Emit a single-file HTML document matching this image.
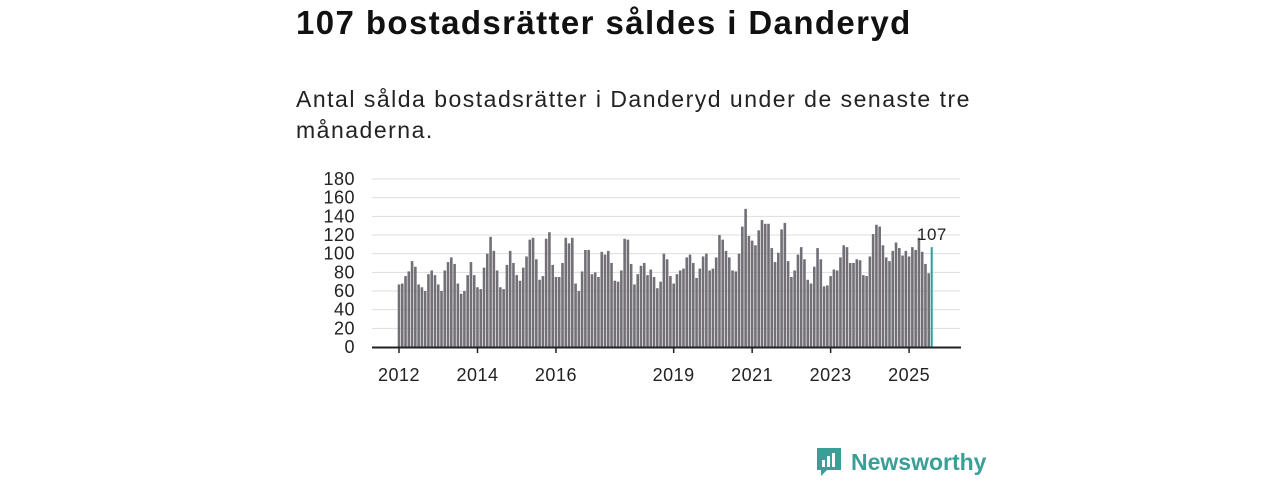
<!DOCTYPE html>
<html><head><meta charset="utf-8"><style>
body{margin:0;width:1280px;height:480px;background:#fff;font-family:"Liberation Sans",sans-serif;overflow:hidden;position:relative}
h1{position:absolute;left:296px;top:4px;margin:0;font-size:33px;font-weight:bold;color:#111;letter-spacing:1.4px}
p{position:absolute;left:296px;top:84px;margin:0;font-size:23px;line-height:31px;color:#222;width:720px;letter-spacing:1.5px}
svg{position:absolute;left:0;top:0}
</style></head><body>
<h1>107 bostadsrätter såldes i Danderyd</h1>
<p>Antal sålda bostadsrätter i Danderyd under de senaste tre månaderna.</p>
<svg id="c" width="1280" height="480"></svg>
<script>
const values=[67,68,76,81,92,86,67,64,60,78,82,77,67,60,82,91,96,89,68,57,60,77,91,77,64,62,85,100,118,103,82,64,62,88,103,90,77,71,85,97,115,117,
94,72,76,116,123,88,75,75,90,117,111,117,68,60,81,104,104,78,80,75,102,99,103,90,71,70,82,116,115,89,67,78,87,90,77,83,75,63,70,100,94,76,68,
78,82,84,96,99,90,74,84,97,100,82,84,96,120,115,103,96,82,81,100,129,148,119,114,109,125,136,132,132,106,91,101,126,133,92,75,82,99,107,
94,72,68,86,106,94,65,66,76,83,82,96,109,107,90,90,94,93,77,76,97,121,131,129,109,96,92,103,112,106,98,103,97,107,104,117,102,89,79,107];
const yTicks=[0,20,40,60,80,100,120,140,160,180];
const xTickIdx=[0,24,48,84,108,132,156];
const xTickLabels=["2012","2014","2016","2019","2021","2023","2025"];
const NS="http://www.w3.org/2000/svg",svg=document.getElementById('c');
const step=533/(values.length-1);
const y=v=>347-v*(168/180), x=i=>399+i*step;
function mk(t,a,txt){const e=document.createElementNS(NS,t);for(const k in a)e.setAttribute(k,a[k]);if(txt!=null)e.textContent=txt;svg.appendChild(e);return e;}
yTicks.forEach(v=>{
 if(v>0){const g=mk('line',{x1:372,x2:960,y1:y(v),y2:y(v),stroke:'#ddd','stroke-width':1});
 
 }
 const t=mk('text',{x:355,y:y(v)+6,'text-anchor':'end','font-size':18,'letter-spacing':0.5,fill:'#222','font-family':'Liberation Sans'},v);
 
 
});
values.forEach((v,i)=>{
 const last=i===values.length-1;
 const r=mk('rect',{x:x(i)-1.3,y:y(v),width:last?2:2.6,height:347-y(v),fill:last?'#2aa198':'#727076'});
 
 
});
const lt=mk('text',{x:x(values.length-1)-15,y:y(values[values.length-1])-7,'font-size':17,'letter-spacing':0.5,fill:'#222','font-family':'Liberation Sans'},values[values.length-1]);


const ax=mk('line',{x1:372,x2:961,y1:347.5,y2:347.5,stroke:'#222','stroke-width':2});


xTickIdx.forEach((m,k)=>{
 const tk=mk('line',{x1:x(m),x2:x(m),y1:347,y2:353,stroke:'#222','stroke-width':1.5});
 
 
 const t=mk('text',{x:x(m),y:381,'text-anchor':'middle','font-size':18,'letter-spacing':0.5,fill:'#222','font-family':'Liberation Sans'},xTickLabels[k]);
 
 
});
</script>
<div style="position:absolute;left:815px;top:445px;height:34px;display:flex;align-items:center">
<svg width="28" height="32" viewBox="0 0 28 32" style="position:static"><path d="M2 2h24v22H12l-6 6v-6H2z" fill="#3a9f97"/><rect x="7" y="14" width="3" height="7" fill="#fff"/><rect x="12" y="10" width="3" height="11" fill="#fff"/><rect x="17" y="7" width="3" height="14" fill="#fff"/></svg>
<span style="margin-left:8px;font-size:23px;font-weight:bold;color:#3a9f97">Newsworthy</span></div>
</body></html>
